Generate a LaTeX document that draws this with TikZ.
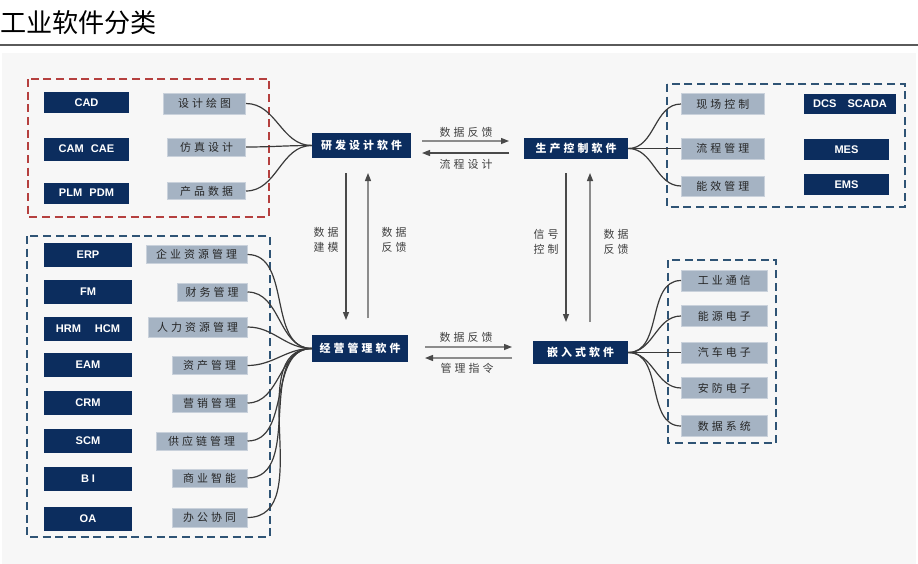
\documentclass[tikz,border=0pt]{standalone}
\usepackage{fontspec}
\usetikzlibrary{arrows.meta}
\newfontfamily\cjk{Noto Sans CJK SC}
\newfontfamily\cjkls{Noto Sans CJK SC}[LetterSpace=28]
\newfontfamily\lat{Liberation Sans}
\newcommand\pxu[1]{#1*0.75pt}
\definecolor{navy}{HTML}{0C2D5E}
\definecolor{gbox}{HTML}{A5B3C3}
\definecolor{gboxline}{HTML}{C9D1DB}
\definecolor{redd}{HTML}{B5403F}
\definecolor{blued}{HTML}{2F5475}
\definecolor{curvec}{HTML}{3A3A3A}
\definecolor{arrc}{HTML}{4A4A4A}
\definecolor{arrl}{HTML}{8C8C8C}
\definecolor{bgc}{HTML}{F7F7F7}
\definecolor{rulec}{HTML}{5A5A5A}
\begin{document}
\begin{tikzpicture}[x=0.75pt,y=-0.75pt,
  dk/.style={fill=navy,text=white,inner sep=0pt,font=\lat\bfseries\fontsize{8.3}{9}\selectfont},
  gy/.style={fill=gbox,draw=gboxline,line width=0.6pt,inner sep=0pt,text=black!85,font=\cjkls\fontsize{8.2}{9}\selectfont},
  mainbox/.style={fill=navy,text=white,inner sep=0pt,font=\cjkls\bfseries\fontsize{8.2}{9}\selectfont},
  lbl/.style={text=black!75,inner sep=0pt,font=\cjkls\fontsize{8.2}{11.5}\selectfont,align=center},
  cv/.style={draw=curvec,line width=0.9pt},
  ar/.style={draw=arrc,line width=1pt,-{Triangle[length=6pt,width=4.5pt,color=arrc]}},
  arl/.style={draw=arrl,line width=1pt,-{Triangle[length=6pt,width=4.5pt,color=arrc]}},
  frame/.style={line width=1.5pt,dash pattern=on 6pt off 3.5pt},
]
\useasboundingbox (0,0) rectangle (918,564);
\fill[bgc] (2,53) rectangle (916,564);
% title
\node[anchor=west,inner sep=0pt,font=\cjk\fontsize{19.6}{22}\selectfont] (title) at (0,23) {工业软件分类};
\draw[rulec,line width=1.5pt] (0,45) -- (918,45);

% frames
\draw[frame,draw=redd] (28,79) rectangle (269,217);
\draw[frame,draw=blued] (667,84) rectangle (905,207);
\draw[frame,draw=blued] (27,236) rectangle (270,537);
\draw[frame,draw=blued] (668,260) rectangle (776,443);

% top-left group
\node[dk,minimum width=\pxu{85},minimum height=\pxu{21}] (cad) at (86.5,102.5) {CAD};
\node[dk,minimum width=\pxu{85},minimum height=\pxu{23}] (cam) at (86.5,149) {CAM\hspace{3pt} CAE};
\node[dk,minimum width=\pxu{85},minimum height=\pxu{21}] (plm) at (86.5,193) {PLM\hspace{3pt} PDM};
\node[gy,anchor=east,minimum width=\pxu{82},minimum height=\pxu{21}] (sjht) at (246,103.5) {设计绘图};
\node[gy,anchor=east,minimum width=\pxu{78},minimum height=\pxu{18}] (fzsj) at (246,147) {仿真设计};
\node[gy,anchor=east,minimum width=\pxu{78},minimum height=\pxu{17}] (cpsj) at (246,191) {产品数据};

% main nodes
\node[mainbox,minimum width=\pxu{99},minimum height=\pxu{25}] (yf) at (361.5,145.5) {研发设计软件};
\node[mainbox,minimum width=\pxu{104},minimum height=\pxu{21}] (sc) at (576,148.5) {生产控制软件};
\node[mainbox,minimum width=\pxu{96},minimum height=\pxu{27}] (jy) at (360,348.5) {经营管理软件};
\node[mainbox,minimum width=\pxu{95},minimum height=\pxu{23}] (qr) at (580.5,352.5) {嵌入式软件};

% top-right group
\node[gy,anchor=west,minimum width=\pxu{83},minimum height=\pxu{21}] (xckz) at (681,104) {现场控制};
\node[gy,anchor=west,minimum width=\pxu{83},minimum height=\pxu{21}] (lcgl) at (681,148.5) {流程管理};
\node[gy,anchor=west,minimum width=\pxu{83},minimum height=\pxu{20}] (nxgl) at (681,186) {能效管理};
\node[dk,minimum width=\pxu{92},minimum height=\pxu{20}] (dcs) at (850,104) {DCS\hspace{6pt} SCADA};
\node[dk,minimum width=\pxu{85},minimum height=\pxu{21}] (mes) at (846.5,149.5) {MES};
\node[dk,minimum width=\pxu{85},minimum height=\pxu{21}] (ems) at (846.5,184.5) {EMS};

% bottom-left group
\node[dk,minimum width=\pxu{88},minimum height=\pxu{24}] (erp) at (88,255) {ERP};
\node[dk,minimum width=\pxu{88},minimum height=\pxu{24}] (fm) at (88,292) {FM};
\node[dk,minimum width=\pxu{88},minimum height=\pxu{24}] (hrm) at (88,329) {HRM\hspace{8pt} HCM};
\node[dk,minimum width=\pxu{88},minimum height=\pxu{24}] (eam) at (88,365) {EAM};
\node[dk,minimum width=\pxu{88},minimum height=\pxu{24}] (crm) at (88,402.5) {CRM};
\node[dk,minimum width=\pxu{88},minimum height=\pxu{24}] (scm) at (88,440.5) {SCM};
\node[dk,minimum width=\pxu{88},minimum height=\pxu{24}] (bi) at (88,479) {B\hspace{2pt}I};
\node[dk,minimum width=\pxu{88},minimum height=\pxu{24}] (oa) at (88,519) {OA};
\node[gy,anchor=east,minimum width=\pxu{101},minimum height=\pxu{18}] (qyzy) at (247.5,254.5) {企业资源管理};
\node[gy,anchor=east,minimum width=\pxu{70},minimum height=\pxu{18}] (cwgl) at (247.5,292) {财务管理};
\node[gy,anchor=east,minimum width=\pxu{99},minimum height=\pxu{20}] (rlzy) at (247.5,327) {人力资源管理};
\node[gy,anchor=east,minimum width=\pxu{75},minimum height=\pxu{18}] (zcgl) at (247.5,365.5) {资产管理};
\node[gy,anchor=east,minimum width=\pxu{75},minimum height=\pxu{18}] (yxgl) at (247.5,403) {营销管理};
\node[gy,anchor=east,minimum width=\pxu{91},minimum height=\pxu{18}] (gylgl) at (247.5,441) {供应链管理};
\node[gy,anchor=east,minimum width=\pxu{75},minimum height=\pxu{18}] (syzn) at (247.5,478) {商业智能};
\node[gy,anchor=east,minimum width=\pxu{75},minimum height=\pxu{19}] (bgxt) at (247.5,517.5) {办公协同};

% bottom-right group
\node[gy,anchor=west,minimum width=\pxu{86},minimum height=\pxu{21}] (gytx) at (681,280.5) {工业通信};
\node[gy,anchor=west,minimum width=\pxu{86},minimum height=\pxu{21}] (nydz) at (681,316) {能源电子};
\node[gy,anchor=west,minimum width=\pxu{86},minimum height=\pxu{21}] (qcdz) at (681,352.5) {汽车电子};
\node[gy,anchor=west,minimum width=\pxu{86},minimum height=\pxu{21}] (afdz) at (681,388) {安防电子};
\node[gy,anchor=west,minimum width=\pxu{86},minimum height=\pxu{21}] (sjxt) at (681,426) {数据系统};

% curves
\foreach \g in {sjht,fzsj,cpsj} \draw[cv] (\g.east) to[out=0,in=180] (yf.west);
\foreach \g in {qyzy,cwgl,rlzy,zcgl,yxgl,gylgl,syzn,bgxt} \draw[cv] (\g.east) to[out=0,in=180] (jy.west);
\foreach \g in {xckz,lcgl,nxgl} \draw[cv] (sc.east) to[out=0,in=180] (\g.west);
\foreach \g in {gytx,nydz,qcdz,afdz,sjxt} \draw[cv] (qr.east) to[out=0,in=180] (\g.west);

% arrow end points
\coordinate (t1a) at (422,141); \coordinate (t1b) at (509,141);
\coordinate (t2a) at (509,153); \coordinate (t2b) at (422,153);
\coordinate (b1a) at (425,347); \coordinate (b1b) at (512,347);
\coordinate (b2a) at (512,358); \coordinate (b2b) at (425,358);
\coordinate (v1a) at (346,173); \coordinate (v1b) at (346,320);
\coordinate (v2a) at (368,318); \coordinate (v2b) at (368,173);
\coordinate (v3a) at (566,173); \coordinate (v3b) at (566,322);
\coordinate (v4a) at (590,322); \coordinate (v4b) at (590,173);

\draw[arl] (t1a) -- (t1b);
\draw[ar] (t2a) -- (t2b);
\draw[arl] (b1a) -- (b1b);
\draw[arl] (b2a) -- (b2b);
\draw[ar] (v1a) -- (v1b);
\draw[arl] (v2a) -- (v2b);
\draw[ar] (v3a) -- (v3b);
\draw[arl] (v4a) -- (v4b);

% labels
\node[lbl] (l1) at (466,132) {数据反馈};
\node[lbl] (l2) at (466,164) {流程设计};
\node[lbl] (l3) at (466,337) {数据反馈};
\node[lbl] (l4) at (467,368) {管理指令};
\node[lbl] (l5) at (326,240) {数据\\建模};
\node[lbl] (l6) at (394,240) {数据\\反馈};
\node[lbl] (l7) at (546,242) {信号\\控制};
\node[lbl] (l8) at (616,242) {数据\\反馈};
\end{tikzpicture}
\end{document}
